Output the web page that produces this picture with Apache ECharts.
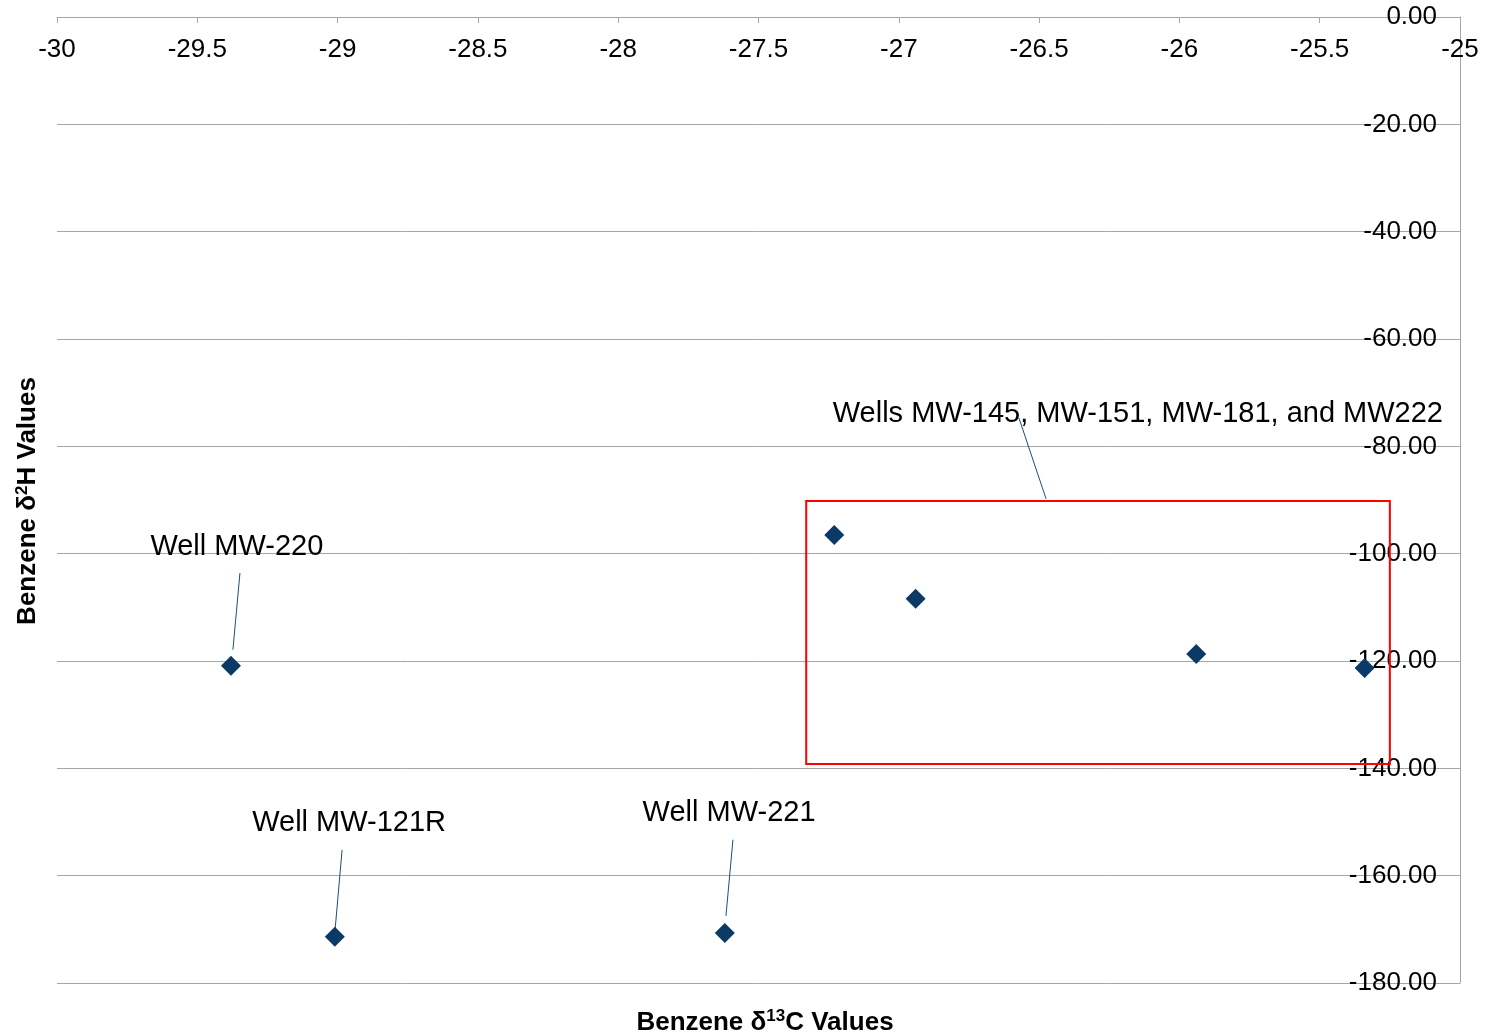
<!DOCTYPE html>
<html>
<head>
<meta charset="utf-8">
<script src="https://cdn.jsdelivr.net/npm/echarts@6/dist/echarts.min.js"></script>
<style>html,body{margin:0;padding:0;background:#fff}#c{width:1489px;height:1034px}</style>
</head>
<body>
<div id="c"></div>
<script>
// Data (delta13C, delta2H)
var wellC = [-29.38, -29.01, -27.62, -27.23, -26.94, -25.94, -25.34];
var wellH = [-120.9, -171.4, -170.7, -96.5, -108.4, -118.7, -121.3];

// Annotation labels: text, text anchor (x,y), leader line start (x,y), end (x,y)
var annoText = ['Well MW-220', 'Well MW-121R', 'Well MW-221', 'Wells MW-145, MW-151, MW-181, and MW222'];
var annoX = [-29.359, -28.959, -27.605, -26.148];
var annoY = [-98.8, -150.2, -148.3, -74.0];
var leadX1 = [-29.348, -28.984, -27.591, -26.572];
var leadY1 = [-103.6, -155.2, -153.3, -74.7];
var leadX2 = [-29.373, -29.009, -27.616, -26.475];
var leadY2 = [-117.9, -170.1, -167.5, -89.8];

// Highlight box corners
var boxX = [-27.33, -25.25];
var boxY = [-90.2, -139.2];

// Axis settings
var xMin = -30, xMax = -25, xStep = 0.5;
var yMin = -180, yMax = 0, yStep = 20;

var FONT = '"Liberation Sans", Arial, sans-serif';

var points = wellC.map(function (c, i) { return [c, wellH[i]]; });
var annoData = annoText.map(function (t, i) { return { name: t, value: [annoX[i], annoY[i]] }; });
var leaderLines = leadX1.map(function (x, i) {
  return [{ coord: [x, leadY1[i]] }, { coord: [leadX2[i], leadY2[i]] }];
});

var chart = echarts.init(document.getElementById('c'), null, { renderer: 'canvas' });
chart.setOption({
  animation: false,
  backgroundColor: '#ffffff',
  textStyle: { fontFamily: FONT },
  grid: { left: 57, right: 29, top: 17, bottom: 51, containLabel: false },
  xAxis: {
    type: 'value', position: 'top', min: xMin, max: xMax, interval: xStep,
    axisLine: { show: true, onZero: false, lineStyle: { color: '#a6a6a6', width: 1 } },
    axisTick: { show: true, inside: true, length: 6, lineStyle: { color: '#a6a6a6' } },
    axisLabel: { inside: true, margin: 20, color: '#000', fontSize: 26, fontFamily: FONT,
      showMinLabel: true, showMaxLabel: true, hideOverlap: false },
    splitLine: { show: false }
  },
  yAxis: {
    type: 'value', position: 'right', min: yMin, max: yMax, interval: yStep,
    axisLine: { show: true, onZero: false, lineStyle: { color: '#a6a6a6', width: 1 } },
    axisTick: { show: false },
    axisLabel: { inside: true, margin: 23, color: '#000', fontSize: 26, fontFamily: FONT,
      padding: [4, 0, 0, 0],
      showMinLabel: true, showMaxLabel: true, hideOverlap: false,
      formatter: function (v) { return v.toFixed(2); } },
    splitLine: { show: true, lineStyle: { color: '#a6a6a6', width: 1 } }
  },
  title: [{
    text: '{b|Benzene δ}{s|13}{b|C Values}',
    left: 760, top: 1003, textAlign: 'center',
    textStyle: { rich: {
      b: { fontSize: 26, fontWeight: 'bold', fontFamily: FONT, color: '#000' },
      s: { fontSize: 17, fontWeight: 'bold', fontFamily: FONT, color: '#000', padding: [0, 0, 12, 0] }
    } }
  }],
  graphic: [{
    type: 'text', x: 28, y: 501, rotation: Math.PI / 2,
    style: {
      text: '{b|Benzene δ}{s|2}{b|H Values}',
      align: 'center', verticalAlign: 'middle',
      rich: {
        b: { fontSize: 26, fontWeight: 'bold', fontFamily: FONT, fill: '#000' },
        s: { fontSize: 17, fontWeight: 'bold', fontFamily: FONT, fill: '#000', padding: [0, 0, 12, 0] }
      }
    }
  }],
  series: [{
    type: 'scatter', name: 'Wells', data: points, z: 5,
    symbol: 'diamond', symbolSize: 20,
    itemStyle: { color: '#0b3a66', opacity: 1 },
    markArea: {
      silent: true,
      itemStyle: { color: 'rgba(0,0,0,0)', borderColor: '#ff0000', borderWidth: 2 },
      data: [[{ coord: [boxX[0], boxY[0]] }, { coord: [boxX[1], boxY[1]] }]]
    }
  }, {
    type: 'scatter', name: 'Labels', data: annoData, symbolSize: 0, silent: true, z: 6,
    label: { show: true, position: [0, 0], align: 'center', verticalAlign: 'middle', formatter: '{b}',
      color: '#000', opacity: 1, fontSize: 29, fontFamily: FONT },
    markLine: {
      silent: true, symbol: ['none', 'none'],
      lineStyle: { color: '#1f4e79', width: 1, type: 'solid', opacity: 1 },
      label: { show: false },
      data: leaderLines
    }
  }]
});
</script>
</body>
</html>
